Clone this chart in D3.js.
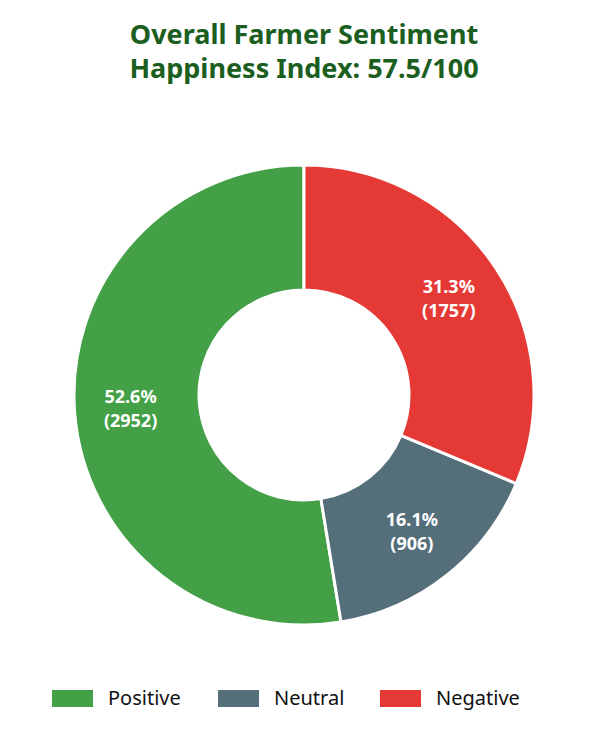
<!DOCTYPE html>
<html lang="en">
<head>
  <meta charset="UTF-8">
  <title>Overall Farmer Sentiment</title>
  <script src="https://d3js.org/d3.v7.min.js"></script>
  <style>
    body { margin: 0; background: #fff; }
    text { font-family: "Noto Sans", sans-serif; }
    .title { font-weight: 700; font-size: 27px; fill: #1b5e20; }
    .slice-label { font-weight: 700; font-size: 18px; fill: #fff; }
    .legend text { font-size: 20px; fill: #111; }
  </style>
</head>
<body>
<svg width="608" height="735"></svg>
<script>
  const categories = ["Positive", "Neutral", "Negative"];
  const counts = [2952, 906, 1757];
  const percents = [52.6, 16.1, 31.3];
  const colors = ["#43a047", "#546e7a", "#e53935"];
  const titleLines = ["Overall Farmer Sentiment", "Happiness Index: 57.5/100"];

  const svg = d3.select("svg");
  const width = +svg.attr("width");

  const data = categories.map((c, i) => ({ name: c, count: counts[i], pct: percents[i], color: colors[i] }));

  // title
  svg.append("g")
    .selectAll("text")
    .data(titleLines)
    .join("text")
    .attr("class", "title")
    .attr("x", width / 2)
    .attr("y", (d, i) => 44 + i * 34)
    .attr("text-anchor", "middle")
    .text(d => d);

  // donut, drawn counter-clockwise from the top
  const cx = 304, cy = 395;
  const outer = 230, inner = 105;
  const labelR = 174;

  const pie = d3.pie()
    .value(d => d.count)
    .sort(null)
    .startAngle(0)
    .endAngle(-2 * Math.PI);

  const arc = d3.arc().innerRadius(inner).outerRadius(outer);
  const labelArc = d3.arc().innerRadius(labelR).outerRadius(labelR);

  const g = svg.append("g").attr("transform", `translate(${cx},${cy})`);

  const arcs = pie(data);

  g.selectAll("path")
    .data(arcs)
    .join("path")
    .attr("d", arc)
    .attr("fill", d => d.data.color)
    .attr("stroke", "#fff")
    .attr("stroke-width", 3)
    .attr("stroke-linejoin", "round");

  const labels = g.selectAll("text")
    .data(arcs)
    .join("text")
    .attr("class", "slice-label")
    .attr("text-anchor", "middle")
    .attr("transform", d => `translate(${labelArc.centroid(d)})`);

  labels.append("tspan")
    .attr("x", 0)
    .attr("y", -6)
    .text(d => d.data.pct.toFixed(1) + "%");

  labels.append("tspan")
    .attr("x", 0)
    .attr("y", 18)
    .text(d => "(" + d.data.count + ")");

  // legend
  const legendX = [52, 218, 380];
  const legend = svg.append("g").attr("class", "legend")
    .selectAll("g")
    .data(data)
    .join("g")
    .attr("transform", (d, i) => `translate(${legendX[i]},690)`);

  legend.append("rect")
    .attr("width", 41)
    .attr("height", 17)
    .attr("fill", d => d.color);

  legend.append("text")
    .attr("x", 56)
    .attr("y", 15)
    .text(d => d.name);
</script>
</body>
</html>
